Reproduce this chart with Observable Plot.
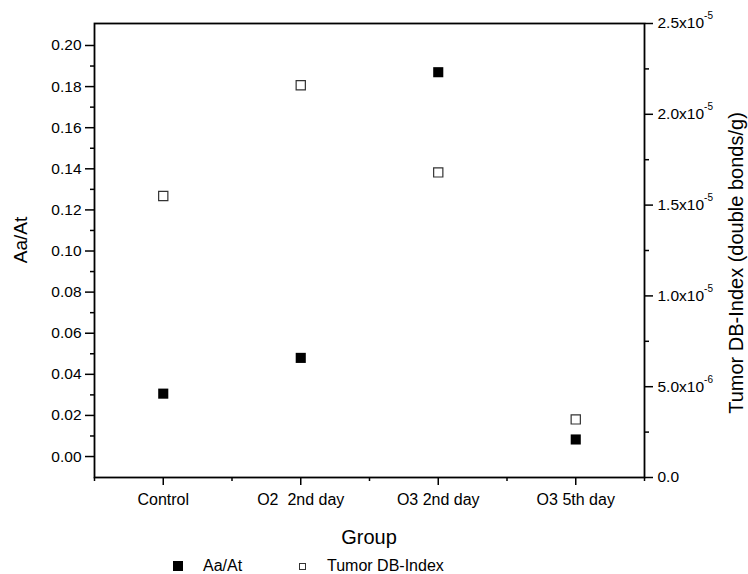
<!DOCTYPE html>
<html><head><meta charset="utf-8">
<script src="https://cdn.jsdelivr.net/npm/d3@7"></script>
<script src="https://cdn.jsdelivr.net/npm/@observablehq/plot@0.6"></script>
<style>
body{margin:0;background:#fff;font-family:"Liberation Sans",Arial,sans-serif;}
#chart svg{display:block;}
#legend{position:relative;height:22px;font-size:16px;color:#000;}
#legend span{position:absolute;top:5px;line-height:18px;}
#legend .sw{box-sizing:border-box;}
</style></head><body><div id="chart"></div><div id="legend"></div>
<script>
const groups = ["Control", "O2\u00a0 2nd day", "O3 2nd day", "O3 5th day"];
const aaAt = [0.0306, 0.048, 0.187, 0.0083];
const dbIndex = [1.55e-5, 2.16e-5, 1.68e-5, 3.2e-6];
const leftTicks = [0, 0.02, 0.04, 0.06, 0.08, 0.10, 0.12, 0.14, 0.16, 0.18, 0.20];
const leftMinor = [0.01, 0.03, 0.05, 0.07, 0.09, 0.11, 0.13, 0.15, 0.17, 0.19];
const rightTicks = [0, 5e-6, 1e-5, 1.5e-5, 2e-5, 2.5e-5];
const rightTickLabels = ["0.0", "5.0x10^-6", "1.0x10^-5", "1.5x10^-5", "2.0x10^-5", "2.5x10^-5"];
const rightMinor = [2.5e-6, 7.5e-6, 1.25e-5, 1.75e-5, 2.25e-5];
const titles = {left: "Aa/At", right: "Tumor DB-Index (double bonds/g)", x: "Group"};
const legendLabels = ["Aa/At", "Tumor DB-Index"];

const yDomain = [-0.0102, 0.2107];
const r2l = d3.scaleLinear([0, 2.5e-5], yDomain);

const rowsA = groups.map((g, i) => ({x: i + 1, y: aaAt[i]}));
const rowsB = groups.map((g, i) => ({x: i + 1, y: r2l(dbIndex[i])}));
const catPos = groups.map((g, i) => i + 1);
const catMinor = [0.5, 1.5, 2.5, 3.5, 4.5];

const plot = Plot.plot({
  width: 748, height: 552,
  marginLeft: 94, marginRight: 104, marginTop: 23, marginBottom: 75,
  style: {fontFamily: '"Liberation Sans", Arial, sans-serif', fontSize: "15.5px", color: "#000", background: "#fff"},
  x: {type: "linear", domain: [0.5, 4.5]},
  y: {domain: yDomain},
  marks: [
    Plot.axisY(leftTicks, {anchor: "left", tickSize: 9, stroke: "#000", strokeWidth: 1.5, tickPadding: 4, tickFormat: d3.format(".2f"), label: null}),
    Plot.axisY(leftMinor, {anchor: "left", tickSize: 4, stroke: "#000", strokeWidth: 1.5, tickFormat: () => "", label: null}),
    Plot.axisY(rightTicks.map(r2l), {anchor: "right", tickSize: 8, stroke: "#000", strokeWidth: 1.5, tickPadding: 5,
      tickFormat: (d, i) => rightTickLabels[i], label: null}),
    Plot.axisY(rightMinor.map(r2l), {anchor: "right", tickSize: 4, stroke: "#000", strokeWidth: 1.5, tickFormat: () => "", label: null}),
    Plot.axisX(catPos, {anchor: "bottom", tickSize: 8, stroke: "#000", strokeWidth: 1.5, tickPadding: 8, fontSize: 16,
      tickFormat: d => groups[d - 1], label: null}),
    Plot.axisX(catMinor, {anchor: "bottom", tickSize: 4, stroke: "#000", strokeWidth: 1.5, tickFormat: () => "", label: null}),
    Plot.frame({stroke: "#000", strokeWidth: 1.8}),
    Plot.dot(rowsB, {x: "x", y: "y", symbol: "square", r: 5.2, fill: "#fff", stroke: "#333", strokeWidth: 1.2}),
    Plot.dot(rowsA, {x: "x", y: "y", symbol: "square", r: 5.7, fill: "#000", stroke: "none"})
  ]
});
document.getElementById("chart").appendChild(plot);

// superscripts on right tick labels
d3.select(plot).selectAll("text").each(function() {
  const t = d3.select(this);
  const s = t.text();
  if (s.includes("^")) {
    const [base, exp] = s.split("^");
    t.text(null);
    t.append("tspan").text(base);
    t.append("tspan").attr("font-size", "10px").attr("dy", "-9").text(exp);
  }
});

// axis titles
const svg = d3.select(plot);
const tg = svg.append("g").attr("fill", "#000").attr("text-anchor", "middle")
  .attr("font-family", '"Liberation Sans", Arial, sans-serif');
tg.append("text").attr("transform", "translate(20,240) rotate(-90)").attr("dy", "0.35em")
  .attr("font-size", 19).text(titles.left);
tg.append("text").attr("transform", "translate(736,263) rotate(-90)").attr("dy", "0.35em")
  .attr("font-size", 20).text(titles.right);
tg.append("text").attr("transform", "translate(369,537)").attr("dy", "0.35em")
  .attr("font-size", 20).text(titles.x);

// legend
const leg = d3.select("#legend");
const legX = [173, 299];
const legTextX = [203, 327];
const legSize = [10, 7];
const legFill = ["#000", "#fff"];
legendLabels.forEach((lab, i) => {
  leg.append("span").attr("class", "sw")
    .style("left", legX[i] + "px")
    .style("top", (14 - legSize[i] / 2) + "px")
    .style("width", legSize[i] + "px").style("height", legSize[i] + "px")
    .style("line-height", "0")
    .style("background", legFill[i])
    .style("border", i === 0 ? "none" : "1px solid #333");
  leg.append("span").style("left", legTextX[i] + "px").text(lab);
});
</script></body></html>
